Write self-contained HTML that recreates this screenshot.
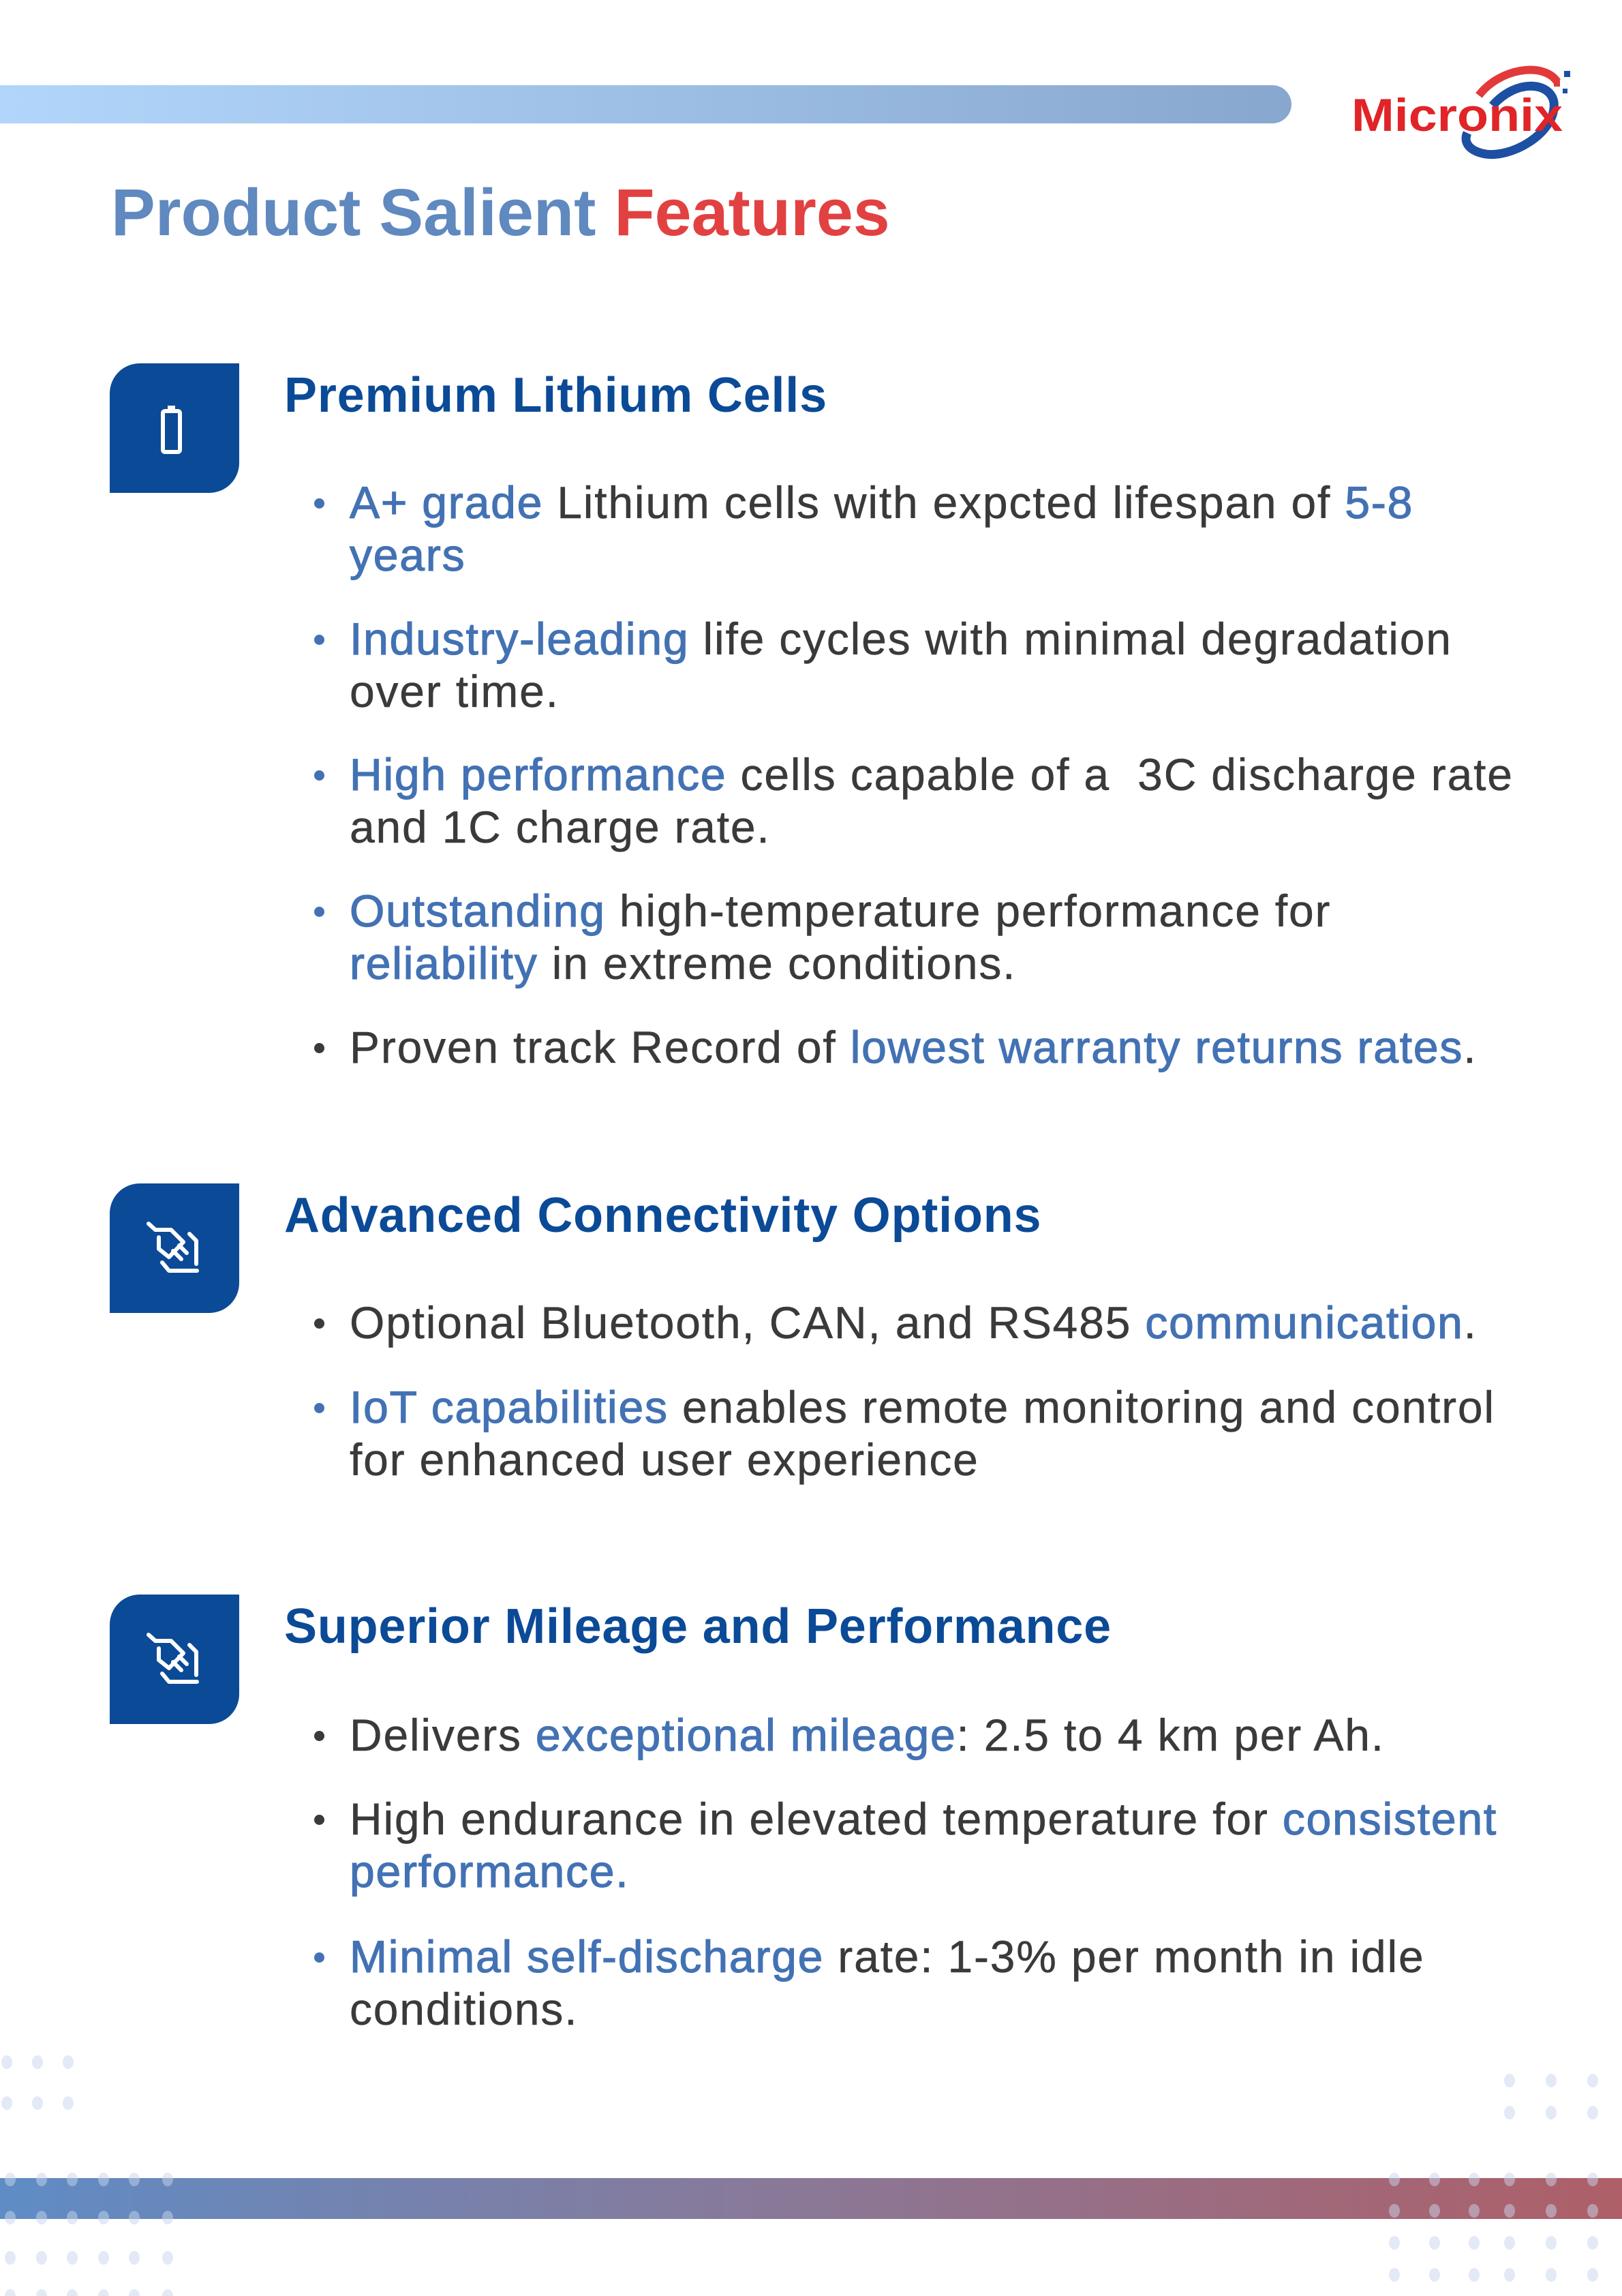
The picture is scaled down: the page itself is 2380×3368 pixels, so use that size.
<!DOCTYPE html>
<html><head><meta charset="utf-8">
<style>
html,body{margin:0;padding:0;background:#fff}
#page{position:relative;width:2380px;height:3368px;overflow:hidden;background:#fff;font-family:"Liberation Sans",sans-serif}
.abs{position:absolute}
.topbar{left:0;top:125px;width:1895px;height:56px;border-radius:0 28px 28px 0;background:linear-gradient(90deg,#b2d6fb,#88a7cf)}
.title{left:163px;top:262px;font-size:97px;font-weight:bold;color:#5f89bf;white-space:nowrap;line-height:100px}
.title span{color:#e24142}
.icon{left:161px;width:190px;height:190px;background:#0b4a97;border-radius:44px 0 44px 0}
.icon svg{position:absolute;left:0;top:0}
.head{left:417px;font-size:72px;font-weight:bold;color:#0b4a97;white-space:nowrap;line-height:80px;letter-spacing:0.8px}
.bul{left:513px;font-size:66px;color:#3a3a3a;line-height:77px;white-space:nowrap;letter-spacing:1.8px;-webkit-text-stroke:0.5px #3a3a3a}
.bul::before{content:"";position:absolute;left:-52px;top:32px;width:15px;height:15px;border-radius:50%;background:#3a3a3a}
.bul.b::before{background:#4372b4}
.bl{color:#4372b4;-webkit-text-stroke:1.2px #4372b4}
.bottombar{left:0;top:3195px;width:2380px;height:60px;background:linear-gradient(90deg,#5f8cc5,#877a9b 45%,#ae5f68)}
.dot{position:absolute;width:16px;height:20px;border-radius:50%;background:rgba(200,214,236,0.5)}
</style></head>
<body>
<div id="page">
<div class="abs topbar"></div>

<svg class="abs" style="left:1975px;top:80px" width="340" height="160" viewBox="0 0 340 160">
<path d="M195 60 C225 20 290 10 310 40" stroke="#e23a3a" stroke-width="12" fill="none"/>
<path d="M215 75 C250 35 300 40 305 70 C310 115 240 155 200 145 C180 140 172 128 178 115" stroke="#1d4fa3" stroke-width="13" fill="none"/>
<rect x="320" y="24" width="9" height="9" fill="#1d4fa3"/><rect x="305" y="38" width="9" height="9" fill="#e23a3a"/><rect x="318" y="50" width="7" height="7" fill="#1d4fa3"/>
<text x="8" y="112" font-family="Liberation Sans,sans-serif" font-weight="bold" font-size="68" textLength="310" lengthAdjust="spacingAndGlyphs" fill="#e02428">Micronix</text>
</svg>

<div class="abs title">Product Salient <span>Features</span></div>

<div class="abs icon" style="top:533px">
<svg width="190" height="190"><rect x="85" y="62" width="11" height="8" fill="#fff"/><rect x="78" y="70" width="25" height="60" rx="3" fill="none" stroke="#fff" stroke-width="6"/></svg>
</div>
<div class="abs head" style="top:540px">Premium Lithium Cells</div>
<div class="abs bul b" style="top:699px"><span class="bl">A+ grade</span> Lithium cells with expcted lifespan of <span class="bl">5-8</span><br><span class="bl">years</span></div>
<div class="abs bul b" style="top:899px"><span class="bl">Industry-leading</span> life cycles with minimal degradation<br>over time.</div>
<div class="abs bul b" style="top:1098px"><span class="bl">High performance</span> cells capable of a &nbsp;3C discharge rate<br>and 1C charge rate.</div>
<div class="abs bul b" style="top:1298px"><span class="bl">Outstanding</span> high-temperature performance for<br><span class="bl">reliability</span> in extreme conditions.</div>
<div class="abs bul" style="top:1498px">Proven track Record of <span class="bl">lowest warranty returns rates</span>.</div>

<div class="abs icon" style="top:1736px">
<svg width="190" height="190" fill="none" stroke="#fff" stroke-width="6" stroke-linecap="round" stroke-linejoin="round"><path d="M57 59 L67 68 L90 68 L108 86 L87 108 L72 96 L72 79"/><path d="M93 99 L105 111"/><path d="M102 91 L113 102"/><path d="M117 74 L127 84 L127 118"/><path d="M77 116 L87 128 L128 128"/></svg>
</div>
<div class="abs head" style="top:1743px">Advanced Connectivity Options</div>
<div class="abs bul" style="top:1902px">Optional Bluetooth, CAN, and RS485 <span class="bl">communication</span>.</div>
<div class="abs bul b" style="top:2026px"><span class="bl">IoT capabilities</span> enables remote monitoring and control<br>for enhanced user experience</div>

<div class="abs icon" style="top:2339px">
<svg width="190" height="190" fill="none" stroke="#fff" stroke-width="6" stroke-linecap="round" stroke-linejoin="round"><path d="M57 59 L67 68 L90 68 L108 86 L87 108 L72 96 L72 79"/><path d="M93 99 L105 111"/><path d="M102 91 L113 102"/><path d="M117 74 L127 84 L127 118"/><path d="M77 116 L87 128 L128 128"/></svg>
</div>
<div class="abs head" style="top:2346px">Superior Mileage and Performance</div>
<div class="abs bul" style="top:2507px">Delivers <span class="bl">exceptional mileage</span>: 2.5 to 4 km per Ah.</div>
<div class="abs bul" style="top:2630px">High endurance in elevated temperature for <span class="bl">consistent</span><br><span class="bl">performance.</span></div>
<div class="abs bul b" style="top:2832px"><span class="bl">Minimal self-discharge</span> rate: 1-3% per month in idle<br>conditions.</div>

<div class="abs bottombar"></div>
<div id="dots"></div>
</div>
<script>
const d=document.getElementById('dots');
function grid(xs,ys){for(const y of ys)for(const x of xs){const e=document.createElement('div');e.className='dot';e.style.left=(x-8)+'px';e.style.top=(y-10)+'px';


d.appendChild(e);}}
grid([10,55,100],[3025,3085]);
grid([15,61,106,152,197,246],[3197,3253,3312,3368]);
grid([2215,2276,2337],[3052,3099]);
grid([2046,2105,2163,2215,2276,2337],[3197,3243,3290,3337]);
</script>
</body></html>
